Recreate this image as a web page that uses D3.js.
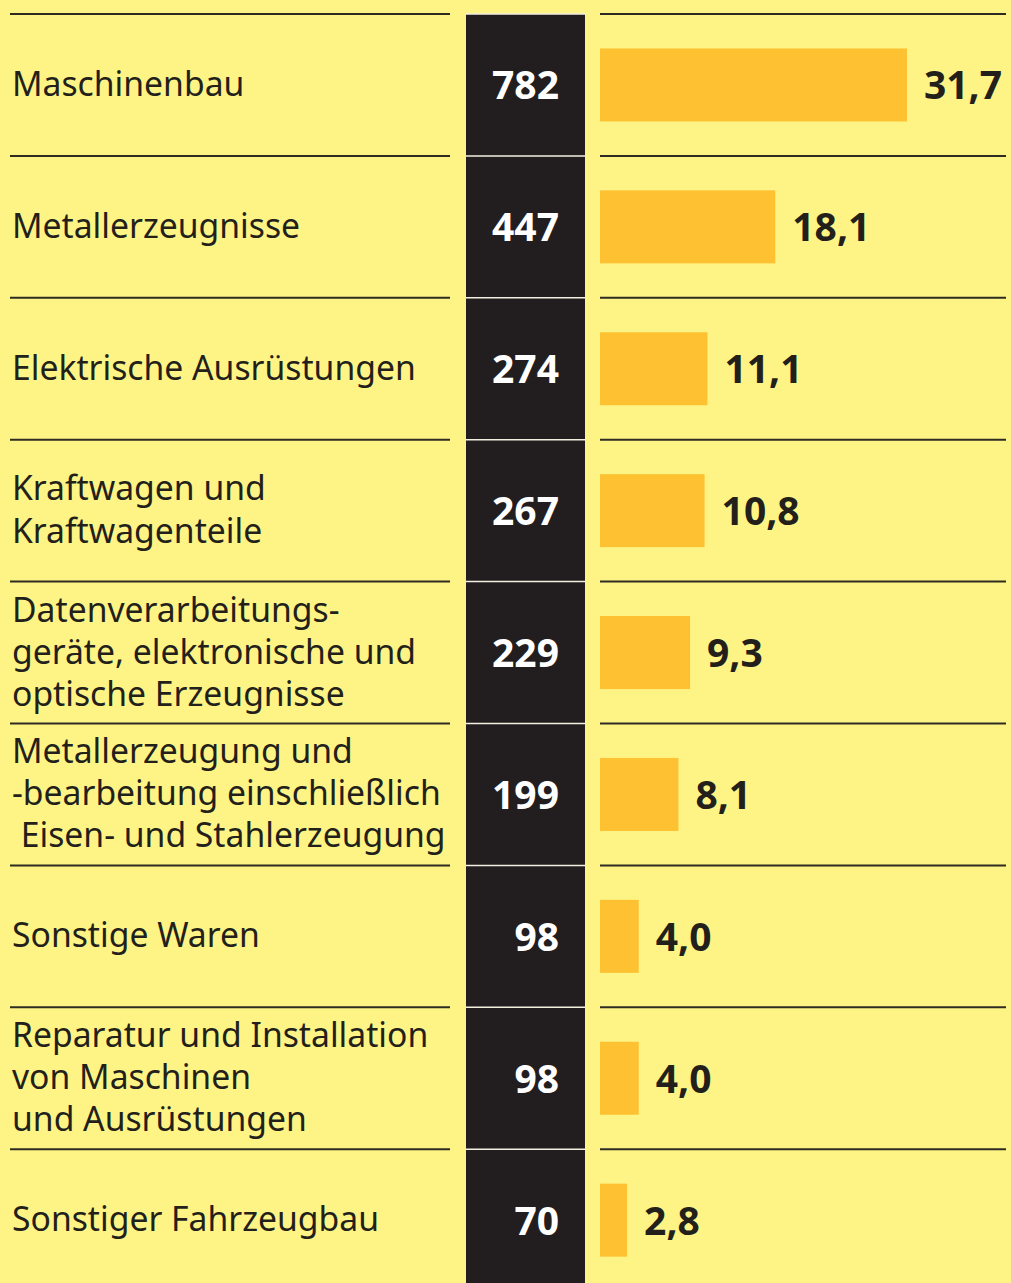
<!DOCTYPE html>
<html>
<head>
<meta charset="utf-8">
<script src="https://cdn.jsdelivr.net/npm/d3@7"></script>
<style>
  html, body { margin: 0; padding: 0; background: #fef485; }
  svg { display: block; }
  text { font-family: "Noto Sans", sans-serif; }
</style>
</head>
<body>
<svg id="chart"></svg>
<script>
// Branches, each label split into its printed lines
const categories = [
    ["Maschinenbau"],
    ["Metallerzeugnisse"],
    ["Elektrische Ausrüstungen"],
    ["Kraftwagen und", "Kraftwagenteile"],
    ["Datenverarbeitungs-", "geräte, elektronische und", "optische Erzeugnisse"],
    ["Metallerzeugung und", "-bearbeitung einschließlich", " Eisen- und Stahlerzeugung"],
    ["Sonstige Waren"],
    ["Reparatur und Installation", "von Maschinen", "und Ausrüstungen"],
    ["Sonstiger Fahrzeugbau"]
];
const counts = [782, 447, 274, 267, 229, 199, 98, 98, 70];
const shares = [31.7, 18.1, 11.1, 10.8, 9.3, 8.1, 4.0, 4.0, 2.8];

const width = 1011;
const height = 1283;
const topY = 14;
const rowH = 141.9;

const svg = d3.select("#chart")
    .attr("width", width)
    .attr("height", height);

const rows = d3.range(categories.length);

let yScale = d3.scaleBand()
    .domain(rows)
    .range([topY, topY + rowH * rows.length])
    .paddingInner(0)
    .paddingOuter(0);

let xScale = d3.scaleLinear()
    .domain([0, 31.7])
    .range([600, 907]);

const fmt = v => d3.format(".1f")(v).replace(".", ",");
const mid = d => yScale(d) + yScale.bandwidth() / 2;

// dark column for the counts
svg.append("rect")
    .attr("x", 466)
    .attr("y", topY)
    .attr("width", 119)
    .attr("height", height - topY)
    .attr("fill", "#221e1f");

// separator lines
let seps = svg.append("g");
seps.selectAll("line.left")
    .data(rows)
    .join("line")
    .attr("class", "left")
    .attr("x1", 10).attr("x2", 450)
    .attr("y1", d => yScale(d)).attr("y2", d => yScale(d))
    .attr("stroke", "#2e2b22")
    .attr("stroke-width", 2);
seps.selectAll("line.right")
    .data(rows)
    .join("line")
    .attr("class", "right")
    .attr("x1", 600).attr("x2", 1006)
    .attr("y1", d => yScale(d)).attr("y2", d => yScale(d))
    .attr("stroke", "#2e2b22")
    .attr("stroke-width", 2);
seps.selectAll("line.mid")
    .data(rows)
    .join("line")
    .attr("class", "mid")
    .attr("x1", 466).attr("x2", 585)
    .attr("y1", d => yScale(d)).attr("y2", d => yScale(d))
    .attr("stroke", "#f4f0e0")
    .attr("stroke-width", 1.5);

// category labels
let labels = svg.append("g")
    .selectAll("text")
    .data(rows)
    .join("text")
    .attr("x", 12)
    .attr("font-size", 33.7)
    .attr("fill", "#231f1a")
    .style("white-space", "pre");

labels.each(function(i) {
    let lines = categories[i];
    let cy = mid(i) - 2;
    let lh = lines.length == 2 ? 43 : 42;
    d3.select(this).selectAll("tspan")
        .data(lines)
        .join("tspan")
        .attr("x", 12)
        .attr("y", (d, j) => cy + (j - (lines.length - 1) / 2) * lh)
        .attr("dominant-baseline", "central")
        .text(d => d);
});

// counts in the dark column
svg.append("g")
    .selectAll("text")
    .data(rows)
    .join("text")
    .attr("x", 559)
    .attr("y", d => mid(d) - 1)
    .attr("dominant-baseline", "central")
    .attr("text-anchor", "end")
    .attr("font-size", 39)
    .attr("font-weight", "bold")
    .attr("fill", "#ffffff")
    .text(d => counts[d]);

// bars
const barH = 73;
svg.append("g")
    .selectAll("rect")
    .data(rows)
    .join("rect")
    .attr("x", xScale(0))
    .attr("y", d => mid(d) - barH / 2)
    .attr("width", d => xScale(shares[d]) - xScale(0))
    .attr("height", barH)
    .attr("fill", "#fdc132");

// share values
svg.append("g")
    .selectAll("text")
    .data(rows)
    .join("text")
    .attr("x", d => xScale(shares[d]) + 17)
    .attr("y", d => mid(d) - 1)
    .attr("dominant-baseline", "central")
    .attr("font-size", 39)
    .attr("font-weight", "bold")
    .attr("fill", "#231f1a")
    .text(d => fmt(shares[d]));
</script>
</body>
</html>
